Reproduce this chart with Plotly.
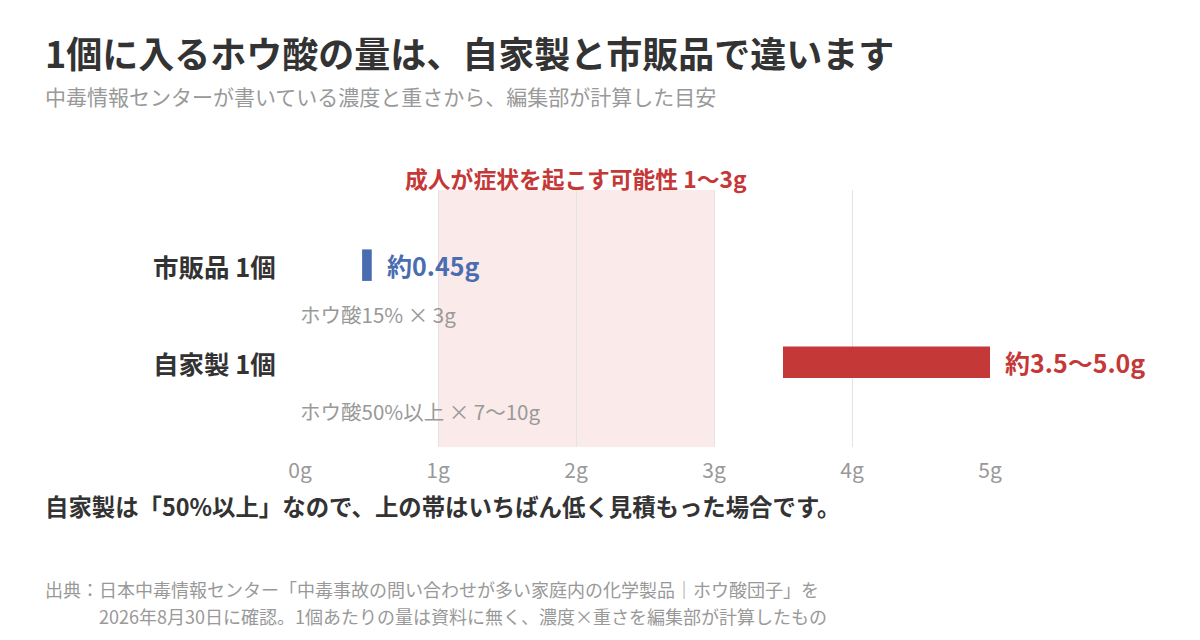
import plotly.graph_objects as go

# ---- data ----
categories = ["市販品 1個", "自家製 1個"]
details = ["ホウ酸15% × 3g", "ホウ酸50%以上 × 7〜10g"]
low_g = [0.45, 3.5]
high_g = [0.45, 5.0]
value_labels = ["約0.45g", "約3.5〜5.0g"]
bar_colors = ["#4a6db0", "#c53838"]
band_range = [1, 3]
band_label = "成人が症状を起こす可能性 1〜3g"
x_ticks = [0, 1, 2, 3, 4, 5]
x_ticktext = ["0g", "1g", "2g", "3g", "4g", "5g"]

title = "1個に入るホウ酸の量は、自家製と市販品で違います"
subtitle = "中毒情報センターが書いている濃度と重さから、編集部が計算した目安"
note = "自家製は「50%以上」なので、上の帯はいちばん低く見積もった場合です。"
source1 = "出典：日本中毒情報センター「中毒事故の問い合わせが多い家庭内の化学製品｜ホウ酸団子」を"
source2 = "2026年8月30日に確認。1個あたりの量は資料に無く、濃度×重さを編集部が計算したもの"

FONT = "Noto Sans CJK JP"
MIN_W = 0.07

row_y = [2 * i for i in range(len(categories))]
detail_y = [2 * i + 1 for i in range(len(categories))]
widths = [max(h - l, MIN_W) for l, h in zip(low_g, high_g)]

fig = go.Figure()
fig.add_trace(go.Bar(
    y=row_y, x=widths, base=low_g, orientation="h",
    marker=dict(color=bar_colors, line=dict(width=0)),
    width=0.65, hoverinfo="skip", showlegend=False,
))

# band
fig.add_shape(type="rect", xref="x", yref="paper", x0=band_range[0], x1=band_range[1],
              y0=0, y1=1, fillcolor="#fbeaea", line=dict(width=0), layer="below")

# page has an 8px body offset; margins compensate
OFF = 8
PT, PB = 190, 447
def py(pix):
    return (PB - pix) / (PB - PT)
def px(pix):
    return (pix - 300) / 690

ann = []
ann.append(dict(x=(band_range[0] + band_range[1]) / 2, xref="x", y=py(178), yref="paper",
                text="<b>" + band_label + "</b>", showarrow=False, xanchor="center", yanchor="middle",
                font=dict(family=FONT, size=22.8, color="#c53838")))
for c, yv in zip(categories, row_y):
    ann.append(dict(x=0, xref="paper", y=yv, yref="y", text="<b>" + c + "</b>", showarrow=False,
                    xanchor="right", yanchor="middle", xshift=-22,
                    font=dict(family=FONT, size=25.5, color="#333333")))
for d, yv in zip(details, detail_y):
    ann.append(dict(x=0, xref="x", y=yv, yref="y", text=d, showarrow=False,
                    xanchor="left", yanchor="middle", xshift=-2,
                    font=dict(family=FONT, size=20.5, color="#999999")))
for lbl, l, w, yv, col in zip(value_labels, low_g, widths, row_y, bar_colors):
    ann.append(dict(x=l + w, xref="x", y=yv, yref="y", text="<b>" + lbl + "</b>", showarrow=False,
                    xanchor="left", yanchor="middle", xshift=13,
                    font=dict(family=FONT, size=25, color=col)))
ann.append(dict(x=px(43), xref="paper", y=py(52), yref="paper",
                text="<b>" + title + "</b>", showarrow=False, xanchor="left", yanchor="middle",
                font=dict(family=FONT, size=36, color="#333333")))
ann.append(dict(x=px(43), xref="paper", y=py(96), yref="paper",
                text=subtitle, showarrow=False, xanchor="left", yanchor="middle",
                font=dict(family=FONT, size=21, color="#999999")))
ann.append(dict(x=px(43), xref="paper", y=py(506), yref="paper",
                text="<b>" + note + "</b>", showarrow=False, xanchor="left", yanchor="middle",
                font=dict(family=FONT, size=23.4, color="#333333")))
ann.append(dict(x=px(43), xref="paper", y=py(589), yref="paper",
                text=source1, showarrow=False, xanchor="left", yanchor="middle",
                font=dict(family=FONT, size=18, color="#999999")))
ann.append(dict(x=px(97), xref="paper", y=py(615.5), yref="paper",
                text=source2, showarrow=False, xanchor="left", yanchor="middle",
                font=dict(family=FONT, size=18, color="#999999")))

fig.update_layout(
    width=1200, height=640,
    margin=dict(l=300 - OFF, r=210 + OFF, t=PT - OFF, b=640 - PB + OFF, pad=0),
    paper_bgcolor="white", plot_bgcolor="white",
    annotations=ann,
    xaxis=dict(range=[0, 5], tickvals=x_ticks, ticktext=x_ticktext, showgrid=True,
               gridcolor="#e3e3e3", gridwidth=1, zeroline=False, showline=False,
               ticks="", tickfont=dict(family=FONT, size=21, color="#999999"),
               ticklabelstandoff=9, fixedrange=True),
    yaxis=dict(range=[3.75, -1.55], showgrid=False, zeroline=False, showticklabels=False,
               showline=False, ticks="", fixedrange=True),
    font=dict(family=FONT),
)

fig.write_html("out.html")
